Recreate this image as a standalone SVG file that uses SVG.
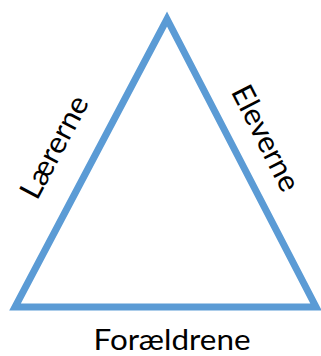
<svg xmlns="http://www.w3.org/2000/svg" width="321" height="356" viewBox="0 0 321 356">
<style>
.edge{fill:none;stroke:#5B9BD5;stroke-width:7;stroke-linejoin:miter;stroke-miterlimit:10}
.lbl{font-family:Lato,"Open Sans","Liberation Sans",sans-serif;font-size:30px;fill:#000;text-anchor:middle}
</style>
<rect width="321" height="356" fill="#fff"/>
<g id="connectors">
<polygon class="edge" points="167,19 316,307 15,307"/>
</g>
<g id="laererne">
<text class="lbl" transform="translate(54,147) rotate(-62)" x="0" y="10.5" textLength="112" lengthAdjust="spacingAndGlyphs">Lærerne</text>
</g>
<g id="eleverne">
<text class="lbl" transform="translate(266,138) rotate(63)" x="0" y="10.5" textLength="115" lengthAdjust="spacingAndGlyphs">Eleverne</text>
</g>
<g id="foraeldrene">
<text class="lbl" x="172" y="350" textLength="157" lengthAdjust="spacingAndGlyphs" style="font-size:29px">Forældrene</text>
</g>
</svg>
